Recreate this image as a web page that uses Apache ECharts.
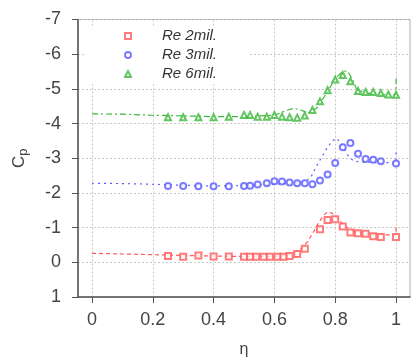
<!DOCTYPE html>
<html><head><meta charset="utf-8">
<script src="https://cdn.jsdelivr.net/npm/echarts@6/dist/echarts.min.js"></script>
<style>html,body{margin:0;padding:0;background:#fff}#c{width:411px;height:363px}</style>
</head><body><div id="c"></div>
<script>
// Experimental points
const x2 = [0.25,0.30,0.35,0.40,0.45,0.50,0.52,0.54,0.565,0.585,0.61,0.63,0.65,0.675,0.70,0.75,0.775,0.80,0.825,0.85,0.875,0.90,0.925,0.95,1.0];
const y2 = [-0.18,-0.16,-0.2,-0.17,-0.17,-0.16,-0.16,-0.16,-0.16,-0.16,-0.16,-0.16,-0.18,-0.24,-0.39,-0.95,-1.22,-1.24,-1.03,-0.86,-0.84,-0.82,-0.75,-0.73,-0.73];
const x3 = [0.25,0.30,0.35,0.40,0.45,0.50,0.52,0.545,0.575,0.60,0.625,0.65,0.675,0.70,0.725,0.75,0.775,0.80,0.825,0.85,0.875,0.90,0.925,0.95,1.0];
const y3 = [-2.20,-2.20,-2.19,-2.19,-2.19,-2.20,-2.21,-2.24,-2.28,-2.34,-2.33,-2.30,-2.28,-2.28,-2.25,-2.36,-2.53,-2.86,-3.32,-3.44,-3.13,-2.98,-2.96,-2.91,-2.85];
const x6 = [0.25,0.30,0.35,0.40,0.45,0.50,0.52,0.545,0.575,0.60,0.625,0.65,0.675,0.70,0.725,0.75,0.775,0.80,0.825,0.85,0.875,0.90,0.925,0.95,0.975,1.0];
const y6 = [-4.18,-4.18,-4.18,-4.18,-4.20,-4.25,-4.25,-4.20,-4.20,-4.25,-4.20,-4.18,-4.17,-4.23,-4.39,-4.64,-4.96,-5.27,-5.40,-5.22,-4.94,-4.91,-4.91,-4.88,-4.84,-4.83];
// Computed curves
const lx2 = [0,0.1,0.2,0.3,0.4,0.5,0.6,0.64,0.68,0.71,0.74,0.76,0.775,0.79,0.81,0.83,0.86,0.9,1.0,1.0];
const ly2 = [-0.26,-0.24,-0.22,-0.2,-0.18,-0.17,-0.17,-0.2,-0.32,-0.6,-1.05,-1.35,-1.45,-1.42,-1.25,-1.05,-0.9,-0.82,-0.78,-1.05];
const lx3 = [0,0.1,0.2,0.3,0.4,0.5,0.6,0.7,0.72,0.74,0.77,0.79,0.805,0.82,0.84,0.86,0.9,1.0,1.0];
const ly3 = [-2.28,-2.27,-2.25,-2.22,-2.2,-2.21,-2.25,-2.3,-2.45,-2.8,-3.25,-3.5,-3.58,-3.4,-3.1,-2.92,-2.88,-2.87,-3.2];
const lx6 = [0,0.1,0.2,0.3,0.4,0.5,0.6,0.64,0.665,0.69,0.71,0.74,0.77,0.8,0.825,0.84,0.855,0.87,0.9,0.95,1.0,1.0];
const ly6 = [-4.28,-4.27,-4.24,-4.22,-4.2,-4.2,-4.24,-4.38,-4.44,-4.38,-4.3,-4.45,-4.85,-5.3,-5.5,-5.52,-5.3,-5.0,-4.88,-4.84,-4.82,-5.3];
const names = ['Re 2mil.','Re 3mil.','Re 6mil.'];
const xTicks = [0,0.2,0.4,0.6,0.8,1];

const zip = (a,b) => a.map((v,i)=>[v,b[i]]);
const cRed = '#ff5a5a', cBlue = '#5a5aff', cGreen = '#3cb83c';
const ff = 'Liberation Sans, Arial, sans-serif';

const chart = echarts.init(document.getElementById('c'), null, {renderer:'canvas'});
const axisFont = {fontFamily:ff, fontSize:18, color:'#444'};
chart.setOption({
  animation:false,
  grid:{left:78, right:1, top:19.5, bottom:61, show:true, borderColor:'#aaa', borderWidth:1},
  legend:{
    orient:'vertical', left:85, top:27,
    data:[{name:names[0],icon:'emptyRect'},{name:names[1],icon:'emptyCircle'},{name:names[2],icon:'emptyTriangle'}],
    itemWidth:6, itemHeight:6, itemGap:3, backgroundColor:'#fff', padding:[1,33,2,39],
    formatter:n=>'{s|}{t|'+n+'}',
    textStyle:{rich:{s:{width:26, height:16}, t:{fontFamily:ff, fontSize:15, fontStyle:'italic', color:'#333', lineHeight:16, height:16}}}
  },
  xAxis:{
    type:'value', min:-0.046, max:1.046,
    name:'η', nameLocation:'middle', nameGap:45, nameTextStyle:{fontFamily:ff, fontSize:16, color:'#444'},
    axisLine:{onZero:false, lineStyle:{color:'#555', width:1.5}},
    axisTick:{inside:false, length:6, customValues:xTicks, lineStyle:{color:'#555'}},
    axisLabel:{customValues:xTicks, margin:14, formatter:v=>String(+v.toFixed(1)), ...axisFont},
    splitLine:{show:true, showMinLine:true, showMaxLine:true, lineStyle:{type:[2,2], color:'#c8c8c8'}}
  },
  yAxis:{
    type:'value', min:-7, max:1, interval:1, inverse:true,
    name:'{a|C}{b|p}', nameLocation:'middle', nameGap:48, nameRotate:90,
    nameTextStyle:{rich:{a:{fontFamily:ff, fontSize:17, color:'#444', lineHeight:22, verticalAlign:'middle'}, b:{fontFamily:ff, fontSize:13, color:'#444', lineHeight:22, verticalAlign:'bottom', padding:[6,0,0,0]}}},
    axisLine:{onZero:false, lineStyle:{color:'#555', width:1.5}},
    axisTick:{inside:false, length:6, lineStyle:{color:'#555'}},
    axisLabel:{margin:17, ...axisFont},
    splitLine:{show:true, lineStyle:{type:[2,2], color:'#c8c8c8'}}
  },
  series:[
    {type:'line', data:zip(lx2,ly2), showSymbol:false, symbol:'none', lineStyle:{color:cRed, width:1.2, type:[4,3]}, z:2},
    {type:'line', data:zip(lx3,ly3), showSymbol:false, symbol:'none', lineStyle:{color:cBlue, width:1.2, type:[2,4]}, z:2},
    {type:'line', data:zip(lx6,ly6), showSymbol:false, symbol:'none', lineStyle:{color:cGreen, width:1.2, type:[6,3,2,3]}, z:2},
    {type:'scatter', name:names[0], data:zip(x2,y2), symbol:'emptyRect', symbolSize:6, itemStyle:{color:cRed, borderColor:cRed, borderWidth:1}, z:3},
    {type:'scatter', name:names[1], data:zip(x3,y3), symbol:'emptyCircle', symbolSize:6, itemStyle:{color:cBlue, borderColor:cBlue, borderWidth:1}, z:3},
    {type:'scatter', name:names[2], data:zip(x6,y6), symbol:'emptyTriangle', symbolSize:6, itemStyle:{color:cGreen, borderColor:cGreen, borderWidth:1}, z:3}
  ]
});
</script></body></html>
